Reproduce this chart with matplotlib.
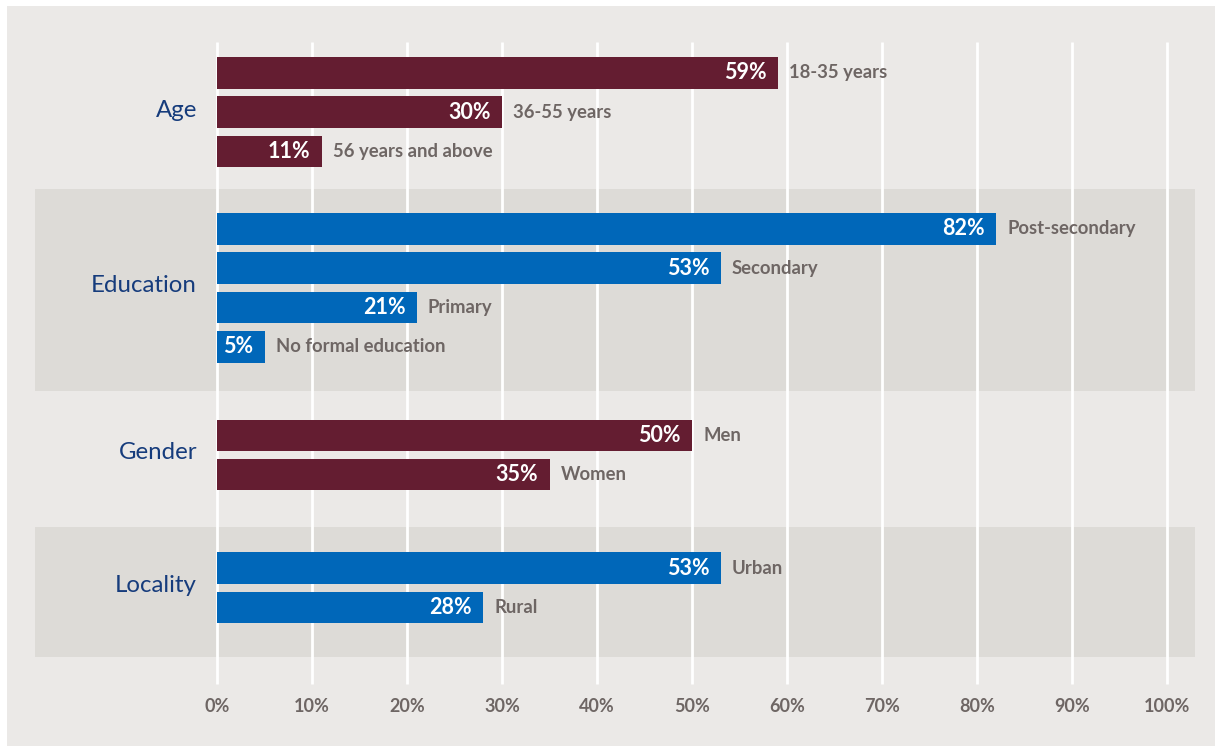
import matplotlib.pyplot as plt
from matplotlib.patches import Rectangle

# data
groups = ['Age', 'Education', 'Gender', 'Locality']
age_labels = ['18-35 years', '36-55 years', '56 years and above']
age_values = [59, 30, 11]
edu_labels = ['Post-secondary', 'Secondary', 'Primary', 'No formal education']
edu_values = [82, 53, 21, 5]
gender_labels = ['Men', 'Women']
gender_values = [50, 35]
locality_labels = ['Urban', 'Rural']
locality_values = [53, 28]
ticks = [0, 10, 20, 30, 40, 50, 60, 70, 80, 90, 100]

group_labels = [age_labels, edu_labels, gender_labels, locality_labels]
group_values = [age_values, edu_values, gender_values, locality_values]

maroon = '#641d31'
blue = '#0067b9'
bg = '#ebe9e7'
band = '#dddbd7'
grey_txt = '#6e6664'
navy = '#163c7c'
bar_colors = [maroon, blue, maroon, blue]

plt.rcParams['font.family'] = ['Lato', 'DejaVu Sans']

W, H = 1215, 746
fig = plt.figure(figsize=(W / 100, H / 100), dpi=100)
fig.patch.set_facecolor('white')
fig.patches.append(Rectangle((7 / W, 0), 1 - 7 / W, 740 / H, transform=fig.transFigure,
                             facecolor=bg, edgecolor='none', zorder=-1))

# axes covers the whole figure: x in percent, y in pixels from the top
px = 9.5      # pixels per percent
x0 = 217      # pixel position of 0%
ax = fig.add_axes([0, 0, 1, 1])
ax.set_xlim(-x0 / px, (W - x0) / px)
ax.set_ylim(H, 0)
ax.axis('off')

pitch = 39.3
bar_h = 31.5
pad_before = [31, 24, 29, 25]   # space between band top and first bar
pad_after = [22, 28, 37, 34]    # space between last bar and band bottom
cursor = 26
band_left = (35 - x0) / px
band_right = (1195 - x0) / px

for g, name in enumerate(groups):
    labels = group_labels[g]
    values = group_values[g]
    n = len(values)
    band_top = cursor
    first = cursor + pad_before[g]
    band_bot = first + (n - 1) * pitch + bar_h + pad_after[g]
    if g % 2 == 1:
        ax.add_patch(Rectangle((band_left, band_top), band_right - band_left, band_bot - band_top,
                               facecolor=band, edgecolor='none', zorder=0.5))
    centers = [first + bar_h / 2 + i * pitch for i in range(n)]
    ax.barh(centers, values, height=bar_h, color=bar_colors[g], zorder=2)
    for c, v, lab in zip(centers, values, labels):
        ax.annotate(f'{v}%', (v, c), xytext=(-8, 0), textcoords='offset points',
                    ha='right', va='center', color='white', fontsize=15.5, fontweight='bold',
                    zorder=3)
        ax.annotate(lab, (v, c), xytext=(8, 0), textcoords='offset points',
                    ha='left', va='center', color=grey_txt, fontsize=13.3, fontweight='bold',
                    zorder=3)
    mid = (centers[0] + centers[-1]) / 2 - 2
    ax.text((197 - x0) / px, mid, name, ha='right', va='center', color=navy, fontsize=17.3)
    cursor = band_bot

# white vertical grid lines
ax.vlines(ticks, 42, 684, color='white', lw=2, zorder=1)
for t in ticks:
    ax.text(t, 706, f'{t}%', ha='center', va='center', color=grey_txt,
            fontsize=13, fontweight='bold')

fig.savefig('out.png', dpi=100, facecolor=fig.get_facecolor())
